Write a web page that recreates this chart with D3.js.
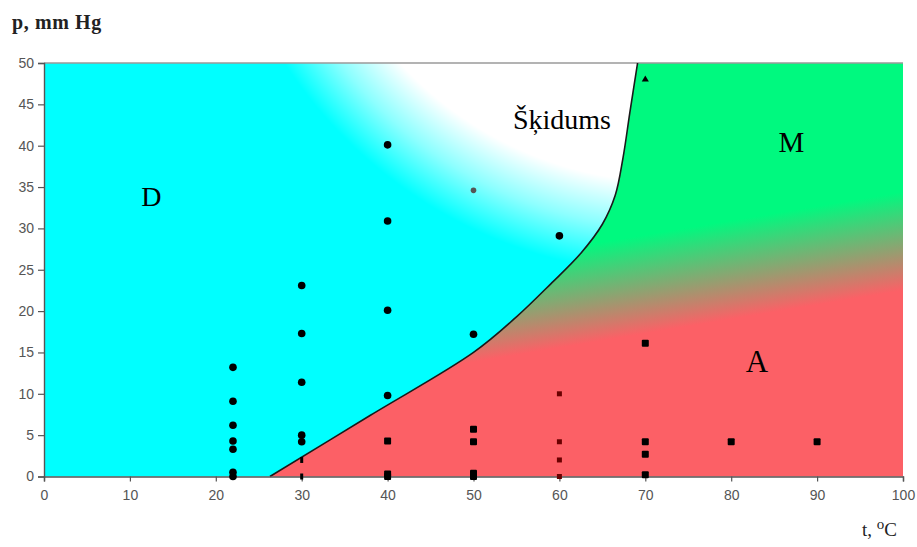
<!DOCTYPE html>
<html><head><meta charset="utf-8">
<script src="https://cdn.jsdelivr.net/npm/d3@7"></script>
<style>
html,body{margin:0;padding:0;background:#fff;}
svg{display:block;}
</style></head>
<body>
<svg id="chart" width="917" height="547"></svg>
<script>
// ---- data ----
const tTicks = [0,10,20,30,40,50,60,70,80,90,100];
const pTicks = [0,5,10,15,20,25,30,35,40,45,50];
const boundaryT = [26.3,38,50,55,59,62.5,65,66.5,67.4,68.2,69.1];
const boundaryP = [0,7.4,15,19.3,23.3,27,30.5,34,38.5,44,50];
const circlePoints = [[22,13.2],[22,9.1],[22,6.2],[22,4.3],[22,3.3],[22,0.5],[22,0],
  [30,23.1],[30,17.3],[30,11.4],[30,5.0],[30,4.2],
  [40,40.1],[40,30.9],[40,20.1],[40,9.8],
  [50,17.2],[60,29.1]];
const grayPoints = [[50,34.6]];
const squarePoints = [[40,4.3],[40,0.3],[40,0],[50,5.7],[50,4.2],[50,0.4],[50,0],
  [70,16.1],[70,4.2],[70,2.7],[70,0.2],[80,4.2],[90,4.2]];
const smallRedPoints = [[60,10.0],[60,4.2],[60,2.0],[60,0]];
const dashPoints = [[30,2.0],[30,0]];
const trianglePoints = [[70,48]];
const regionLabels = ["D","Šķidums","M","A"];
const regionLabelT = [12.5,60.3,87,83];
const regionLabelP = [33.5,42.8,40,13.5];

// ---- drawing ----
const svg = d3.select("#chart");
const x = d3.scaleLinear().domain([0,100]).range([44,903]);
const y = d3.scaleLinear().domain([0,50]).range([476.5,63]);
const defs = svg.append("defs");

const boundary = boundaryT.map((t,i)=>[t,boundaryP[i]]);
const lineGen = d3.line().x(d=>x(d[0])).y(d=>y(d[1])).curve(d3.curveCatmullRom.alpha(0.5));
const bPath = lineGen(boundary);
const bBody = bPath.replace(/^M/,"L");
const leftPath = `M${x(0)},${y(0)}${bBody}L${x(0)},${y(50)}Z`;
const rightPath = `M${x(100)},${y(0)}${bBody}L${x(100)},${y(50)}Z`;

// white glow (liquid region), from a far-away centre up-right
const rg = defs.append("radialGradient").attr("id","glow")
  .attr("gradientUnits","userSpaceOnUse")
  .attr("cx",671).attr("cy",-186).attr("r",460);
rg.append("stop").attr("offset",0).attr("stop-color","#fff").attr("stop-opacity",1);
rg.append("stop").attr("offset",0.8).attr("stop-color","#fff").attr("stop-opacity",1);
rg.append("stop").attr("offset",0.9).attr("stop-color","#fff").attr("stop-opacity",0.55);
rg.append("stop").attr("offset",1).attr("stop-color","#fff").attr("stop-opacity",0);

// green -> red
const lg = defs.append("linearGradient").attr("id","gr")
  .attr("gradientUnits","userSpaceOnUse")
  .attr("x1",722).attr("y1",222).attr("x2",738).attr("y2",318);
lg.append("stop").attr("offset",0).attr("stop-color","#00f97f");
lg.append("stop").attr("offset",1).attr("stop-color","#fc6066");

svg.append("path").attr("d",leftPath).attr("fill","#00ffff");
svg.append("path").attr("d",leftPath).attr("fill","url(#glow)");
svg.append("path").attr("d",rightPath).attr("fill","url(#gr)");

// top frame line
svg.append("line").attr("x1",x(0)).attr("x2",x(100)).attr("y1",y(50)).attr("y2",y(50))
  .attr("stroke","#9a9a9a").attr("stroke-width",1.5);

// boundary
svg.append("path").attr("d",bPath).attr("fill","none")
  .attr("stroke","#1a1a1a").attr("stroke-width",1.6);

// axes
const ax = svg.append("g").attr("transform",`translate(0,${y(0)})`)
  .call(d3.axisBottom(x).tickValues(tTicks).tickSize(5).tickPadding(9).tickFormat(d3.format("d")));
const ay = svg.append("g").attr("transform",`translate(${x(0)},0)`)
  .call(d3.axisLeft(y).tickValues(pTicks).tickSize(6).tickPadding(4).tickFormat(d3.format("d")));
[ax,ay].forEach(g=>{
  g.select(".domain").attr("stroke","#555").attr("stroke-width",1.4);
  g.selectAll(".tick line").attr("stroke","#555").attr("stroke-width",1.2);
  g.selectAll(".tick text").attr("fill","#555").style("font-family","Arial, 'Liberation Sans', sans-serif").style("font-size","14px");
});

// markers
svg.append("g").selectAll("circle.c").data(circlePoints).join("circle")
  .attr("cx",d=>x(d[0])).attr("cy",d=>y(d[1])).attr("r",3.8).attr("fill","#000");
svg.append("g").selectAll("circle.g").data(grayPoints).join("circle")
  .attr("cx",d=>x(d[0])).attr("cy",d=>y(d[1])).attr("r",2.8).attr("fill","#555");
svg.append("g").selectAll("rect.s").data(squarePoints).join("rect")
  .attr("x",d=>x(d[0])-3.5).attr("y",d=>y(d[1])-3.5).attr("width",7).attr("height",7)
  .attr("rx",1).attr("fill","#000");
svg.append("g").selectAll("rect.r").data(smallRedPoints).join("rect")
  .attr("x",d=>x(d[0])-2.5).attr("y",d=>y(d[1])-2.5).attr("width",5).attr("height",5)
  .attr("fill","#6a0000");
svg.append("g").selectAll("rect.d").data(dashPoints).join("rect")
  .attr("x",d=>x(d[0])-1.5).attr("y",d=>y(d[1])-3).attr("width",3).attr("height",6)
  .attr("fill","#000");
svg.append("g").selectAll("path.t").data(trianglePoints).join("path")
  .attr("d",d3.symbol().type(d3.symbolTriangle).size(22))
  .attr("transform",d=>`translate(${x(d[0])},${y(d[1])})`).attr("fill","#000");

// region labels
const sizes = [28,28,29,31];
svg.append("g").selectAll("text").data(regionLabels).join("text")
  .attr("x",(d,i)=>x(regionLabelT[i])).attr("y",(d,i)=>y(regionLabelP[i]))
  .attr("text-anchor","middle").attr("dominant-baseline","middle")
  .style("font-family","'Liberation Serif','Times New Roman',serif")
  .style("font-size",(d,i)=>sizes[i]+"px").attr("fill","#000").text(d=>d);

// axis titles
svg.append("text").attr("x",12).attr("y",29)
  .style("font-family","'Liberation Serif','Times New Roman',serif")
  .style("font-size","20px").style("font-weight","bold").style("letter-spacing","0.6px")
  .attr("fill","#222").text("p, mm Hg");
const tt = svg.append("text").attr("x",862).attr("y",536)
  .style("font-family","'Liberation Serif','Times New Roman',serif")
  .style("font-size","19px").attr("fill","#222");
tt.append("tspan").text("t, ");
tt.append("tspan").attr("dy",-7).style("font-size","15px").text("o");
tt.append("tspan").attr("dy",7).text("C");
</script>
</body></html>
